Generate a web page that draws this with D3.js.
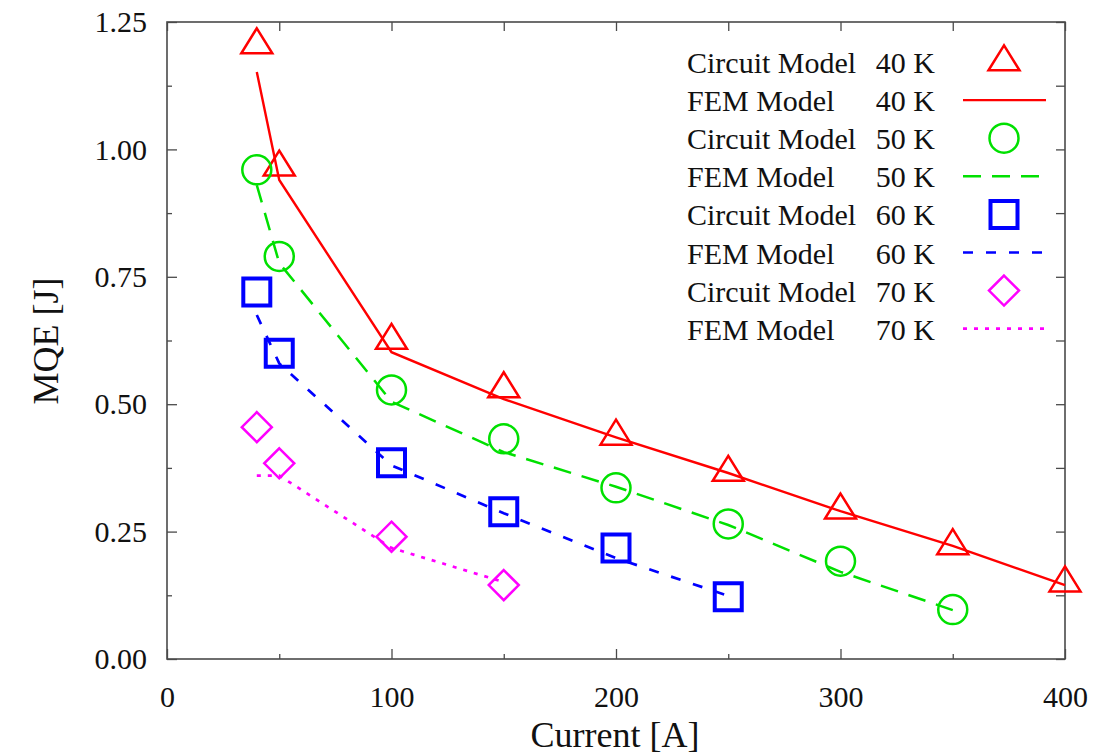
<!DOCTYPE html>
<html>
<head>
<meta charset="utf-8">
<script src="https://cdn.jsdelivr.net/npm/d3@7"></script>
<style>
  html, body { margin: 0; padding: 0; background: #fff; }
  svg { display: block; }
</style>
</head>
<body>
<svg id="chart" width="1113" height="755"></svg>
<script>
// ---- data ----
const currents40 = [40, 50, 100, 150, 200, 250, 300, 350, 400];
const circuit40  = [1.205, 0.965, 0.625, 0.530, 0.437, 0.366, 0.292, 0.222, 0.149];
const fem40      = [1.152, 0.940, 0.602, 0.510, 0.435, 0.365, 0.290, 0.222, 0.145];

const currents50 = [40, 50, 100, 150, 200, 250, 300, 350];
const circuit50  = [0.960, 0.790, 0.528, 0.432, 0.336, 0.265, 0.192, 0.097];
const fem50      = [0.930, 0.777, 0.505, 0.406, 0.338, 0.263, 0.171, 0.096];

const currents60 = [40, 50, 100, 150, 200, 250];
const circuit60  = [0.720, 0.600, 0.385, 0.289, 0.218, 0.122];
const fem60      = [0.675, 0.580, 0.380, 0.286, 0.198, 0.124];

const currents70 = [40, 50, 100, 150];
const circuit70  = [0.455, 0.384, 0.240, 0.145];
const fem70      = [0.360, 0.360, 0.218, 0.151];

const xTickValues = [0, 100, 200, 300, 400];
const xMinorTicks = [50, 150, 250, 350];
const yTickValues = [0, 0.25, 0.5, 0.75, 1.0, 1.25];
const yMinorTicks = [0.125, 0.375, 0.625, 0.875, 1.125];
const xLabel = "Current [A]";
const yLabel = "MQE [J]";
const temps = ["40 K", "50 K", "60 K", "70 K"];

// ---- layout ----
const FONT = "'Liberation Serif', 'Times New Roman', serif";
const svg = d3.select("#chart").style("font-family", FONT);
const X0 = 167, X1 = 1065, Y0 = 659, Y1 = 22;
const x = d3.scaleLinear().domain([0, 400]).range([X0, X1]);
const y = d3.scaleLinear().domain([0, 1.25]).range([Y0, Y1]);
const axisColor = "#4a4a4a";

// axes (ticks inward)
const gx = svg.append("g").attr("transform", `translate(0,${Y0})`)
  .call(d3.axisBottom(x).tickValues(xTickValues).tickSizeInner(-10).tickSizeOuter(0).tickPadding(27).tickFormat(d3.format("d")));
const gxMinor = svg.append("g").attr("transform", `translate(0,${Y0})`)
  .call(d3.axisBottom(x).tickValues(xMinorTicks).tickSizeInner(-5).tickSizeOuter(0).tickFormat(""));
const gy = svg.append("g").attr("transform", `translate(${X0},0)`)
  .call(d3.axisLeft(y).tickValues(yTickValues).tickSizeInner(-10).tickSizeOuter(0).tickPadding(20).tickFormat(d3.format(".2f")));
const gyMinor = svg.append("g").attr("transform", `translate(${X0},0)`)
  .call(d3.axisLeft(y).tickValues(yMinorTicks).tickSizeInner(-5).tickSizeOuter(0).tickFormat(""));
const gTop = svg.append("g").attr("transform", `translate(0,${Y1})`)
  .call(d3.axisTop(x).tickValues(xTickValues.concat(xMinorTicks)).tickSizeInner(-9).tickSizeOuter(0).tickFormat(""));
const gRight = svg.append("g").attr("transform", `translate(${X1},0)`)
  .call(d3.axisRight(y).tickValues(yTickValues.concat(yMinorTicks)).tickSizeInner(-9).tickSizeOuter(0).tickFormat(""));

[gx, gxMinor, gy, gyMinor, gTop, gRight].forEach(g => {
  g.attr("font-family", null).attr("font-size", null);
  g.select(".domain").remove();
  g.selectAll(".tick line").attr("stroke", axisColor).attr("stroke-width", 1.3);
});
[gx, gy].forEach(g => g.selectAll(".tick text")
  .style("font-family", FONT).style("font-size", "30px").attr("fill", "#111"));

// frame
svg.append("rect").attr("x", X0).attr("y", Y1).attr("width", X1 - X0).attr("height", Y0 - Y1)
  .attr("fill", "none").attr("stroke", axisColor).attr("stroke-width", 1.6);

// axis labels
svg.append("text").attr("x", 615).attr("y", 747).attr("text-anchor", "middle")
  .style("font-family", FONT).style("font-size", "36px").attr("fill", "#111").text(xLabel);
svg.append("text").attr("transform", "translate(58,341) rotate(-90)").attr("text-anchor", "middle")
  .style("font-family", FONT).style("font-size", "36px").attr("fill", "#111").text(yLabel);

// ---- series ----
const RED = "#ff0000", GREEN = "#00e000", BLUE = "#0000ff", MAG = "#ff00ff";
const fems = [
  {xs: currents40, ys: fem40, color: RED, dash: null, w: 2.4},
  {xs: currents50, ys: fem50, color: GREEN, dash: "18,11", w: 2.5},
  {xs: currents60, ys: fem60, color: BLUE, dash: "10,13", w: 2.7},
  {xs: currents70, ys: fem70, color: MAG, dash: "4,7", w: 2.7}
];
const line = d3.line().x(d => x(d[0])).y(d => y(d[1]));
fems.forEach(s => {
  const pts = s.xs.map((v, i) => [v, s.ys[i]]);
  svg.append("path").datum(pts).attr("d", line).attr("fill", "none")
    .attr("stroke", s.color).attr("stroke-width", s.w)
    .attr("stroke-dasharray", s.dash);
});

// marker shapes
function triangle(cx, cy) { // apex above center by 2/3 height
  const h = 25, w = 15.5;
  return `M${cx},${cy - h * 2 / 3}L${cx - w},${cy + h / 3}L${cx + w},${cy + h / 3}Z`;
}
function square(cx, cy) { const s = 13.5; return `M${cx - s},${cy - s}H${cx + s}V${cy + s}H${cx - s}Z`; }
function diamond(cx, cy) { const s = 15; return `M${cx},${cy - s}L${cx + s},${cy}L${cx},${cy + s}L${cx - s},${cy}Z`; }
function circle(cx, cy) { const r = 14.5; return `M${cx - r},${cy}A${r},${r} 0 1,0 ${cx + r},${cy}A${r},${r} 0 1,0 ${cx - r},${cy}Z`; }

const circuits = [
  {xs: currents40, ys: circuit40, color: RED, shape: triangle, w: 2.5},
  {xs: currents50, ys: circuit50, color: GREEN, shape: circle, w: 2.5},
  {xs: currents60, ys: circuit60, color: BLUE, shape: square, w: 4},
  {xs: currents70, ys: circuit70, color: MAG, shape: diamond, w: 2.5}
];
circuits.forEach(s => {
  svg.append("g").selectAll("path").data(s.xs.map((v, i) => [v, s.ys[i]])).join("path")
    .attr("d", d => s.shape(x(d[0]), y(d[1])))
    .attr("fill", "none").attr("stroke", s.color).attr("stroke-width", s.w);
});

// ---- legend ----
const legendRows = [];
for (let i = 0; i < 4; i++) {
  legendRows.push({name: "Circuit Model", temp: temps[i], kind: "marker", s: circuits[i]});
  legendRows.push({name: "FEM Model", temp: temps[i], kind: "line", s: fems[i]});
}
const lg = svg.append("g");
legendRows.forEach((r, i) => {
  const base = 73 + i * 38.1;
  const cy = base - 11;
  lg.append("text").attr("x", 687).attr("y", base).style("font-family", FONT).style("font-size", "30px")
    .attr("fill", "#111").text(r.name);
  lg.append("text").attr("x", 935).attr("y", base).style("font-family", FONT).style("font-size", "30px")
    .attr("fill", "#111").attr("text-anchor", "end").text(r.temp);
  if (r.kind === "marker") {
    lg.append("path").attr("d", r.s.shape(1004, cy)).attr("fill", "none")
      .attr("stroke", r.s.color).attr("stroke-width", r.s.w);
  } else {
    lg.append("line").attr("x1", 963).attr("x2", 1046).attr("y1", cy).attr("y2", cy)
      .attr("stroke", r.s.color).attr("stroke-width", r.s.w).attr("stroke-dasharray", r.s.dash);
  }
});
</script>
</body>
</html>
